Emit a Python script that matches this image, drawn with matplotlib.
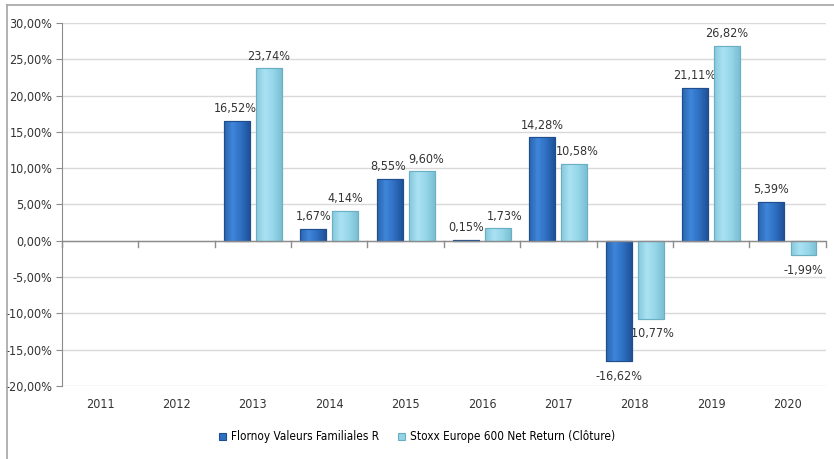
import matplotlib.pyplot as plt
import numpy as np
from matplotlib.lines import Line2D
from matplotlib.colors import LinearSegmentedColormap

# data
years = ['2011', '2012', '2013', '2014', '2015', '2016', '2017', '2018', '2019', '2020']
flornoy = [np.nan, np.nan, 16.52, 1.67, 8.55, 0.15, 14.28, -16.62, 21.11, 5.39]
stoxx = [np.nan, np.nan, 23.74, 4.14, 9.60, 1.73, 10.58, -10.77, 26.82, -1.99]
series_names = ['Flornoy Valeurs Familiales R', 'Stoxx Europe 600 Net Return (Clôture)']
yticks = [30, 25, 20, 15, 10, 5, 0, -5, -10, -15, -20]

plt.rcParams['font.family'] = ['DejaVu Sans']
plt.rcParams['font.stretch'] = 'condensed'

fig = plt.figure(figsize=(8.34, 4.59), dpi=100)
ax = fig.add_axes([0.0743, 0.159, 0.9157, 0.791])

x = np.arange(len(years))
w = 0.34
off = 0.21
dark = '#2F6FC2'
light = '#94D4E8'
fs = 9
lab_color = '#333333'

b1 = ax.bar(x - off, flornoy, w, color=dark, edgecolor='#1F4E8C', linewidth=0.8, zorder=3,
            label=series_names[0])
b2 = ax.bar(x + off, stoxx, w, color=light, edgecolor='#6AAFC4', linewidth=0.8, zorder=3,
            label=series_names[1])

# soft horizontal shading on each bar, like the bevelled bars of the original
cm_dark = LinearSegmentedColormap.from_list('d', ['#2A63AE', '#3F86DA', '#2F6FC2', '#1F5299'])
cm_light = LinearSegmentedColormap.from_list('l', ['#86C8DC', '#A9E2F2', '#96D6E9', '#7CBFD3'])
grad = np.linspace(0, 1, 64).reshape(1, -1)
for bars, cm in ((b1, cm_dark), (b2, cm_light)):
    for p in bars:
        h = p.get_height()
        if np.isnan(h) or h == 0:
            continue
        x0 = p.get_x()
        y0, y1 = sorted([p.get_y(), p.get_y() + h])
        im = ax.imshow(grad, cmap=cm, aspect='auto', extent=[x0, x0 + p.get_width(), y0, y1],
                       zorder=3.5)
        im.set_clip_path(p)
        # edge on top of shading
        ax.add_patch(plt.Rectangle((x0, p.get_y()), p.get_width(), h, fill=False,
                                   edgecolor=p.get_edgecolor(), linewidth=0.8, zorder=3.6))

def fmt(v):
    return ('%.2f' % v).replace('.', ',') + '%'

# small horizontal nudges (points) for labels that sit off-centre in the reference
nudge_f = [0, 0, -1, 0, -1, 0, 0, 0, 0, 0]
nudge_s = [0, 0, 0, 0, 3, 5, 2, 0, 0, 0]
for i in range(len(years)):
    for xs, vals, nd in ((x[i] - off, flornoy, nudge_f), (x[i] + off, stoxx, nudge_s)):
        v = vals[i]
        if np.isnan(v):
            continue
        if v >= 0:
            ax.annotate(fmt(v), (xs, v), xytext=(nd[i], 4), textcoords='offset points',
                        ha='center', va='bottom', fontsize=fs, color=lab_color)
        else:
            ax.annotate(fmt(v), (xs, v), xytext=(nd[i], -6), textcoords='offset points',
                        ha='center', va='top', fontsize=fs, color=lab_color)

ax.set_xlim(-0.5, len(years) - 0.5)
ax.set_ylim(-20, 30)
ax.set_yticks(yticks)
ax.set_yticklabels([('%.2f' % t).replace('.', ',') + '%' for t in yticks],
                   fontsize=fs, color=lab_color)
ax.yaxis.grid(True, color='#D9D9D9', linewidth=1, zorder=0)
ax.set_axisbelow(True)

# x axis drawn at zero, labels at bottom
ax.set_xticks([])
ax.axhline(0, color='#8C8C8C', linewidth=1, zorder=4)
for k in range(len(years) + 1):
    ax.plot([k - 0.5, k - 0.5], [0, -0.8], color='#8C8C8C', linewidth=1, zorder=4,
            clip_on=False)
for i, y in enumerate(years):
    ax.text(x[i], -22.6, y, ha='center', va='center', fontsize=fs, color=lab_color)

for s in ['top', 'right', 'bottom']:
    ax.spines[s].set_visible(False)
ax.spines['left'].set_color('#8C8C8C')
ax.tick_params(axis='y', length=4, color='#8C8C8C', pad=3)

fig.legend(handles=[b1, b2], loc='center', bbox_to_anchor=(0.5, 0.048), ncol=2,
           frameon=False, fontsize=8.5, handlelength=0.6, handleheight=0.6,
           columnspacing=1.6, handletextpad=0.4)

# outer chart frame (top and left edges)
fig.add_artist(Line2D([0.0084, 1.0], [0.989, 0.989], color='#A6A6A6', linewidth=1.2))
fig.add_artist(Line2D([0.0084, 0.0084], [0.0, 0.989], color='#A6A6A6', linewidth=1.2))

fig.savefig('out.png', dpi=100)
